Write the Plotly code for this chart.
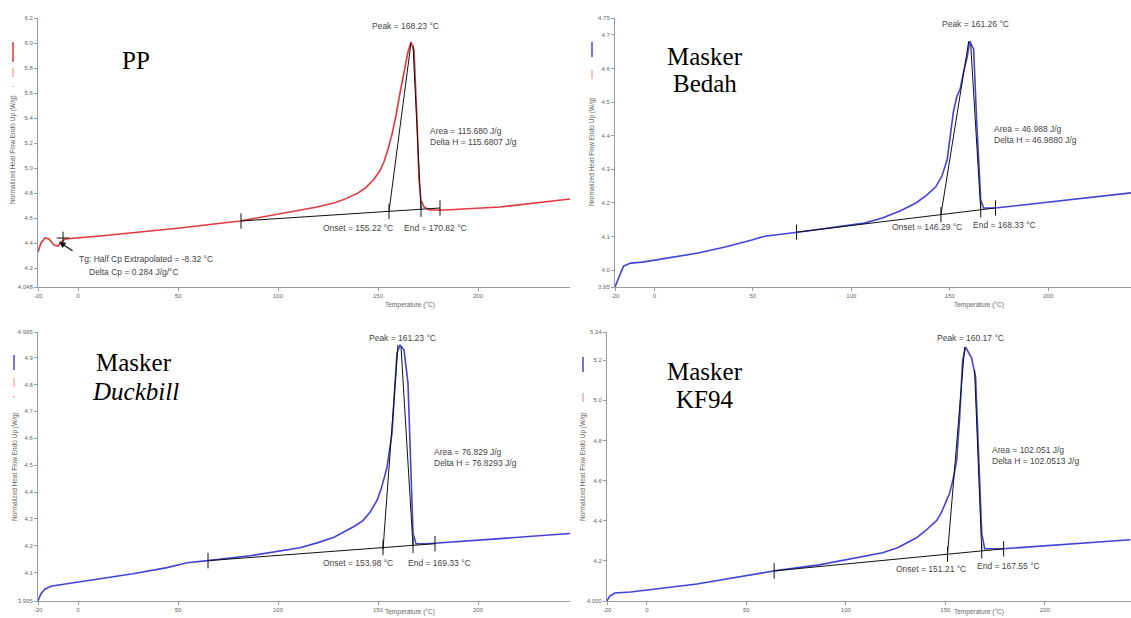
import numpy as np
import plotly.graph_objects as go

W, H = 1131, 618

# ---------------- data: temperature (°C) / normalized heat flow (W/g) ----------------
pp_temp = [-20, -18.5, -16.5, -14.5, -12, -10, -8.5, -6.5, 11, 51, 81, 102.5, 119.5, 128, 134, 140, 144, 148,
           151, 153, 155, 157, 159, 161, 163, 165, 166.5, 168, 169.5, 170.5, 171.5, 173, 176, 183.5, 211, 246]
pp_hf = [4.328, 4.40, 4.44, 4.432, 4.384, 4.376, 4.408, 4.432, 4.456, 4.52, 4.576, 4.64, 4.688, 4.72, 4.755,
         4.80, 4.845, 4.91, 4.98, 5.05, 5.15, 5.27, 5.42, 5.60, 5.78, 5.93, 6.008, 5.944, 5.384, 4.904, 4.744,
         4.688, 4.664, 4.664, 4.688, 4.752]
pp_base_t = [81.5, 181.0]
pp_base_hf = [4.576, 4.68]
pp_onset_t = [155.5, 166.5]
pp_onset_hf = [4.653, 6.0]
pp_end_t = [167.5, 171.5]
pp_end_hf = [5.98, 4.670]
pp_marks_t = [81.5, 155.5, 171.5, 181.0]
pp_tg = (-7.5, 4.44)

bedah_temp = [-20, -17.7, -15.7, -12.1, -6.1, 22.2, 35.9, 49.5, 56, 72.7, 106.6, 115.7, 125, 132.8, 138,
              142.9, 146, 148.7, 150.3, 151.8, 153.5, 155.3, 157, 158.9, 160.1, 162.1, 163.6, 165.7, 167.2,
              173.2, 242]
bedah_hf = [3.95, 3.985, 4.012, 4.021, 4.024, 4.051, 4.069, 4.090, 4.101, 4.113, 4.140, 4.155, 4.177, 4.2,
            4.222, 4.248, 4.28, 4.33, 4.40, 4.47, 4.515, 4.54, 4.59, 4.636, 4.681, 4.657, 4.448, 4.209, 4.185,
            4.185, 4.23]
bedah_base_t = [72.2, 173.2]
bedah_base_hf = [4.113, 4.185]
bedah_onset_t = [145.5, 159.6]
bedah_onset_hf = [4.165, 4.681]
bedah_end_t = [160.6, 165.7]
bedah_end_hf = [4.672, 4.179]
bedah_marks_t = [72.2, 145.5, 165.7, 173.2]

duck_temp = [-20, -18.5, -16.5, -13, -5.5, 11, 27.5, 44.5, 54.5, 65, 86, 111, 120, 128, 134.5, 138, 142.5,
             146, 149.5, 151.5, 153, 154.5, 157, 158.5, 159.5, 161, 163, 165, 166.5, 167.5, 169, 174.5, 211, 246]
duck_hf = [3.996, 4.022, 4.040, 4.051, 4.059, 4.078, 4.096, 4.119, 4.137, 4.145, 4.163, 4.193, 4.212, 4.232,
           4.257, 4.272, 4.294, 4.325, 4.369, 4.41, 4.45, 4.492, 4.619, 4.805, 4.917, 4.947, 4.928, 4.805,
           4.492, 4.246, 4.208, 4.208, 4.227, 4.246]
duck_base_t = [65.0, 178.5]
duck_base_hf = [4.145, 4.208]
duck_onset_t = [152.5, 160.0]
duck_onset_hf = [4.186, 4.947]
duck_end_t = [161.5, 167.5]
duck_end_hf = [4.94, 4.2]
duck_marks_t = [65.0, 152.5, 167.5, 178.5]

kf_temp = [-20, -18.6, -16.1, -8.1, 25.2, 42.3, 64, 86.6, 109.3, 118.4, 126, 131, 135.5, 140, 143, 145.6,
           148, 150.3, 152.1, 154, 155.7, 157.2, 158.7, 160.2, 161.7, 163.2, 165.2, 166.2, 168.3, 169.8,
           178.8, 243]
kf_hf = [4.0, 4.025, 4.04, 4.045, 4.085, 4.115, 4.15, 4.18, 4.225, 4.24, 4.265, 4.29, 4.315, 4.35, 4.375,
         4.4, 4.44, 4.49, 4.535, 4.61, 4.7, 4.915, 5.2, 5.265, 5.24, 5.21, 5.115, 4.835, 4.335, 4.26, 4.26,
         4.305]
kf_base_t = [64.0, 179.3]
kf_base_hf = [4.15, 4.26]
kf_onset_t = [151.1, 159.7]
kf_onset_hf = [4.232, 5.265]
kf_end_t = [164.7, 168.3]
kf_end_hf = [5.15, 4.25]
kf_marks_t = [64.0, 151.1, 168.3, 179.3]

x_tickvals = [-20, 0, 50, 100, 150, 200]
x_ticktext = ["-20", "0", "50", "100", "150", "200"]

pp_yticks = [4.048, 4.2, 4.4, 4.6, 4.8, 5.0, 5.2, 5.4, 5.6, 5.8, 6.0, 6.2]
pp_yticktext = ["4.048", "4.2", "4.4", "4.6", "4.8", "5.0", "5.2", "5.4", "5.6", "5.8", "6.0", "6.2"]
bedah_yticks = [3.95, 4.0, 4.1, 4.2, 4.3, 4.4, 4.5, 4.6, 4.7, 4.75]
bedah_yticktext = ["3.95", "4.0", "4.1", "4.2", "4.3", "4.4", "4.5", "4.6", "4.7", "4.75"]
duck_yticks = [3.995, 4.1, 4.2, 4.3, 4.4, 4.5, 4.6, 4.7, 4.8, 4.9, 4.995]
duck_yticktext = ["3.995", "4.1", "4.2", "4.3", "4.4", "4.5", "4.6", "4.7", "4.8", "4.9", "4.995"]
kf_yticks = [4.0, 4.2, 4.4, 4.6, 4.8, 5.0, 5.2, 5.34]
kf_yticktext = ["4.000", "4.2", "4.4", "4.6", "4.8", "5.0", "5.2", "5.34"]

RED = "#e0393e"
BLUE = "#4343d6"
TXT = "#444444"


def pxx(x):
    return x / W


def pxy(y):
    return 1 - y / H


panels = [
    dict(t=pp_temp, hf=pp_hf, color=RED,
         base=(pp_base_t, pp_base_hf), onset=(pp_onset_t, pp_onset_hf), end=(pp_end_t, pp_end_hf),
         marks=pp_marks_t, xdom=[38, 570], ydom=[18, 287], xr=[-20, 246], yr=[4.048, 6.2],
         yt=(pp_yticks, pp_yticktext),
         peak="Peak = 168.23 °C", peak_xy=(163.5, 6.136),
         area="Area = 115.680 J/g<br>Delta H = 115.6807 J/g", area_xy=(175, 5.252),
         onset_txt="Onset = 155.22 °C", onset_xy=(140, 4.52),
         end_txt="End = 170.82 °C", end_xy=(178.5, 4.52),
         legend_x=13, legend_solid=(42, 62), legend_dash=(68, 87), legend_col=RED,
         ytitle_xy=(13, 150), xtitle_xy=(410, 305)),
    dict(t=bedah_temp, hf=bedah_hf, color=BLUE,
         base=(bedah_base_t, bedah_base_hf), onset=(bedah_onset_t, bedah_onset_hf), end=(bedah_end_t, bedah_end_hf),
         marks=bedah_marks_t, xdom=[615, 1131], ydom=[18, 287], xr=[-20, 242], yr=[3.95, 4.75],
         yt=(bedah_yticks, bedah_yticktext),
         peak="Peak = 161.26 °C", peak_xy=(163, 4.731),
         area="Area = 46.988 J/g<br>Delta H = 46.9880 J/g", area_xy=(171.6, 4.403),
         onset_txt="Onset = 146.29 °C", onset_xy=(138.6, 4.128),
         end_txt="End = 168.33 °C", end_xy=(177.7, 4.134),
         legend_x=592, legend_solid=(42, 57), legend_dash=(70, 83), legend_col=BLUE,
         ytitle_xy=(592, 152), xtitle_xy=(979, 305)),
    dict(t=duck_temp, hf=duck_hf, color=BLUE,
         base=(duck_base_t, duck_base_hf), onset=(duck_onset_t, duck_onset_hf), end=(duck_end_t, duck_end_hf),
         marks=duck_marks_t, xdom=[38, 570], ydom=[332, 601], xr=[-20, 246], yr=[3.995, 4.995],
         yt=(duck_yticks, duck_yticktext),
         peak="Peak = 161.23 °C", peak_xy=(162, 4.973),
         area="Area = 76.829 J/g<br>Delta H = 76.8293 J/g", area_xy=(177, 4.529),
         onset_txt="Onset = 153.98 °C", onset_xy=(140, 4.137),
         end_txt="End = 169.33 °C", end_xy=(180.5, 4.137),
         legend_x=14, legend_solid=(355, 370), legend_dash=(378, 398), legend_col=BLUE,
         ytitle_xy=(15, 467), xtitle_xy=(410, 612)),
    dict(t=kf_temp, hf=kf_hf, color=BLUE,
         base=(kf_base_t, kf_base_hf), onset=(kf_onset_t, kf_onset_hf), end=(kf_end_t, kf_end_hf),
         marks=kf_marks_t, xdom=[607, 1131], ydom=[332, 601], xr=[-20, 243.3], yr=[4.0, 5.34],
         yt=(kf_yticks, kf_yticktext),
         peak="Peak = 160.17 °C", peak_xy=(162.7, 5.31),
         area="Area = 102.051 J/g<br>Delta H = 102.0513 J/g", area_xy=(172.3, 4.725),
         onset_txt="Onset = 151.21 °C", onset_xy=(143, 4.16),
         end_txt="End = 167.55 °C", end_xy=(181.9, 4.175),
         legend_x=583, legend_solid=(357, 372), legend_dash=(393, 410), legend_col=BLUE,
         ytitle_xy=(583, 467), xtitle_xy=(979, 612)),
]

fig = go.Figure()
annotations = []
shapes = []
layout_axes = {}

for i, p in enumerate(panels, start=1):
    sfx = "" if i == 1 else str(i)
    xa, ya = "x" + sfx, "y" + sfx
    fig.add_trace(go.Scatter(x=p["t"], y=p["hf"], mode="lines", xaxis=xa, yaxis=ya,
                             line=dict(color=p["color"], width=1.6), showlegend=False, hoverinfo="skip"))
    for (lt, lh) in (p["base"], p["onset"], p["end"]):
        fig.add_trace(go.Scatter(x=lt, y=lh, mode="lines", xaxis=xa, yaxis=ya,
                                 line=dict(color="#111111", width=1), showlegend=False, hoverinfo="skip"))
    mk_hf = list(np.interp(p["marks"], p["base"][0], p["base"][1]))
    fig.add_trace(go.Scatter(x=p["marks"], y=mk_hf, mode="markers", xaxis=xa, yaxis=ya,
                             marker=dict(symbol="line-ns", size=11, line=dict(color="#111111", width=1)),
                             showlegend=False, hoverinfo="skip"))

    axfont = dict(size=6, color="#666666", family="Arial")
    layout_axes["xaxis" + sfx] = dict(
        domain=[pxx(p["xdom"][0]), pxx(p["xdom"][1])], range=p["xr"], anchor=ya,
        showline=True, linecolor="#9a9a9a", linewidth=1, ticks="outside", ticklen=3,
        tickcolor="#9a9a9a", tickvals=x_tickvals, ticktext=x_ticktext, tickfont=axfont,
        showgrid=False, zeroline=False)
    layout_axes["yaxis" + sfx] = dict(
        domain=[pxy(p["ydom"][1]), pxy(p["ydom"][0])], range=p["yr"], anchor=xa,
        showline=True, linecolor="#9a9a9a", linewidth=1, ticks="outside", ticklen=3,
        tickcolor="#9a9a9a", tickvals=p["yt"][0], ticktext=p["yt"][1], tickfont=axfont,
        showgrid=False, zeroline=False)

    tf = dict(size=8.5, color=TXT, family="Arial")
    annotations.append(dict(x=p["peak_xy"][0], y=p["peak_xy"][1], xref=xa, yref=ya, text=p["peak"],
                            showarrow=False, font=tf, xanchor="center", yanchor="middle"))
    annotations.append(dict(x=p["area_xy"][0], y=p["area_xy"][1], xref=xa, yref=ya, text=p["area"],
                            showarrow=False, font=tf, xanchor="left", yanchor="middle", align="left"))
    annotations.append(dict(x=p["onset_xy"][0], y=p["onset_xy"][1], xref=xa, yref=ya, text=p["onset_txt"],
                            showarrow=False, font=tf, xanchor="center", yanchor="middle"))
    annotations.append(dict(x=p["end_xy"][0], y=p["end_xy"][1], xref=xa, yref=ya, text=p["end_txt"],
                            showarrow=False, font=tf, xanchor="center", yanchor="middle"))
    annotations.append(dict(x=pxx(p["ytitle_xy"][0]), y=pxy(p["ytitle_xy"][1]), xref="paper", yref="paper",
                            text="Normalized Heat Flow Endo Up (W/g)", textangle=-90, showarrow=False,
                            font=dict(size=6.5, color="#666666", family="Arial"),
                            xanchor="center", yanchor="middle"))
    annotations.append(dict(x=pxx(p["xtitle_xy"][0]), y=pxy(p["xtitle_xy"][1]), xref="paper", yref="paper",
                            text="Temperature (°C)", showarrow=False,
                            font=dict(size=6.5, color="#666666", family="Arial"),
                            xanchor="center", yanchor="middle"))
    lx = pxx(p["legend_x"])
    shapes.append(dict(type="line", xref="paper", yref="paper", x0=lx, x1=lx,
                       y0=pxy(p["legend_solid"][0]), y1=pxy(p["legend_solid"][1]),
                       line=dict(color=p["legend_col"], width=1.5)))
    shapes.append(dict(type="line", xref="paper", yref="paper", x0=lx, x1=lx,
                       y0=pxy(p["legend_dash"][0]), y1=pxy(p["legend_dash"][1]),
                       line=dict(color="#f08080", width=1, dash="dash")))

# Tg annotation on PP
fig.add_trace(go.Scatter(x=[pp_tg[0]], y=[pp_tg[1]], mode="markers", xaxis="x", yaxis="y",
                         marker=dict(symbol="cross-thin", size=9, line=dict(color="#111111", width=1)),
                         showlegend=False, hoverinfo="skip"))
annotations.append(dict(x=-9.5, y=4.41, xref="x", yref="y", ax=15, ay=10, text="", showarrow=True,
                        arrowhead=2, arrowsize=1, arrowwidth=1.3, arrowcolor="#111111"))
annotations.append(dict(x=pxx(77), y=pxy(259), xref="paper", yref="paper",
                        text="Tg: Half Cp Extrapolated = -8.32 °C", showarrow=False,
                        font=dict(size=8.5, color=TXT, family="Arial"), xanchor="left", yanchor="middle"))
annotations.append(dict(x=pxx(87), y=pxy(272), xref="paper", yref="paper",
                        text="Delta Cp = 0.284 J/g/°C", showarrow=False,
                        font=dict(size=8.5, color=TXT, family="Arial"), xanchor="left", yanchor="middle"))

serif = dict(size=25, color="black", family="Liberation Serif, Times New Roman, serif")
for txt, cx, cy in [("PP", 136, 61), ("Masker", 705, 56), ("Bedah", 705, 84),
                    ("Masker", 134, 362), ("<i>Duckbill</i>", 135, 391),
                    ("Masker", 705, 371), ("KF94", 704, 399)]:
    annotations.append(dict(x=pxx(cx), y=pxy(cy), xref="paper", yref="paper", text=txt,
                            showarrow=False, font=serif, xanchor="center", yanchor="middle"))

fig.update_layout(width=W, height=H, margin=dict(l=0, r=0, t=0, b=0, autoexpand=False),
                  paper_bgcolor="white", plot_bgcolor="white",
                  annotations=annotations, shapes=shapes, **layout_axes)

fig.write_html("out.html", config={"displayModeBar": False},
               post_script="document.body.style.margin='0px';")
